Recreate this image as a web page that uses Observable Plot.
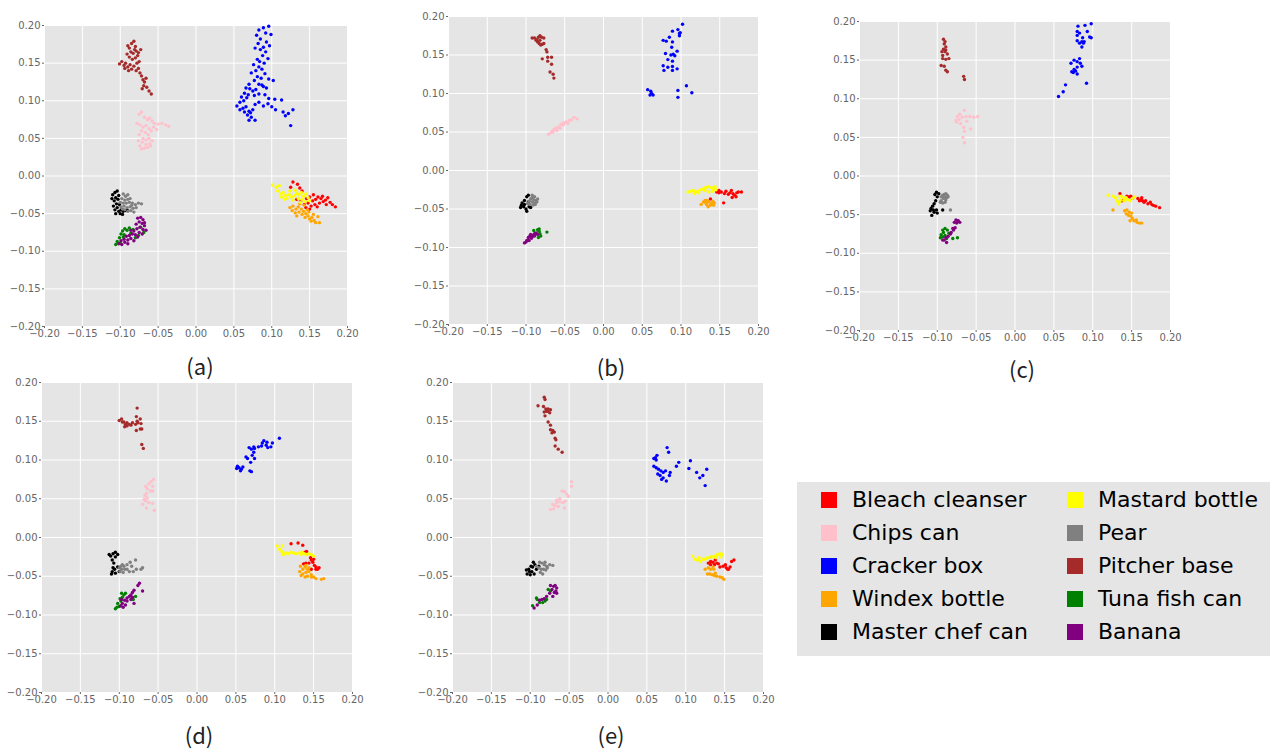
<!DOCTYPE html>
<html><head><meta charset="utf-8">
<script src="https://cdn.jsdelivr.net/npm/d3@7"></script>
<script src="https://cdn.jsdelivr.net/npm/@observablehq/plot@0.6"></script>
<style>
body{margin:0;background:#fff;}
#root{position:relative;width:1274px;height:749px;overflow:hidden;background:#fff;}
.cap{position:absolute;font-family:"Noto Sans CJK JP","Noto Sans",sans-serif;font-size:22px;line-height:1;color:#222;transform:translate(-50%,-50%);white-space:nowrap;}
#legend{position:absolute;left:797px;top:482px;width:473px;height:174px;background:#e5e5e5;}
.sw{position:absolute;width:16px;height:16px;}
.lt{position:absolute;font-family:"DejaVu Sans",sans-serif;font-size:22px;color:#000;height:26px;line-height:26px;white-space:nowrap;}
</style></head><body>
<div id="root"><div id="legend"></div></div>
<script>
const categories = ["Bleach cleanser","Chips can","Cracker box","Windex bottle","Master chef can","Mastard bottle","Pear","Pitcher base","Tuna fish can","Banana"];
const colors = ["#ff0000","#ffc0cb","#0000ff","#ffa500","#000000","#ffff00","#808080","#a52a2a","#008000","#800080"];
const tickValues = [-0.2,-0.15,-0.1,-0.05,0,0.05,0.1,0.15,0.2];
const panelLabels = ["(a)","(b)","(c)","(d)","(e)"];

// ---- panel (a)
const aBleach = [[0.128,-0.008],[0.134,-0.011],[0.137,-0.016],[0.125,-0.015],[0.140,-0.020],[0.146,-0.030],[0.150,-0.028],[0.154,-0.033],[0.158,-0.031],[0.161,-0.028],[0.165,-0.030],[0.168,-0.034],[0.171,-0.032],[0.174,-0.029],[0.177,-0.035],[0.180,-0.038],[0.184,-0.041],[0.163,-0.036],[0.157,-0.038],[0.152,-0.040],[0.148,-0.036],[0.143,-0.038],[0.138,-0.034],[0.160,-0.041],[0.167,-0.027],[0.155,-0.025],[0.172,-0.038],[0.145,-0.042],[0.150,-0.044],[0.133,-0.031]];
const aChips = [[-0.075,0.082],[-0.072,0.085],[-0.068,0.078],[-0.064,0.075],[-0.061,0.077],[-0.058,0.073],[-0.055,0.070],[-0.050,0.069],[-0.045,0.070],[-0.040,0.068],[-0.036,0.066],[-0.078,0.070],[-0.074,0.068],[-0.070,0.065],[-0.066,0.067],[-0.062,0.063],[-0.059,0.060],[-0.063,0.055],[-0.067,0.058],[-0.072,0.060],[-0.075,0.055],[-0.070,0.050],[-0.066,0.048],[-0.062,0.050],[-0.058,0.047],[-0.061,0.043],[-0.066,0.042],[-0.071,0.045],[-0.074,0.040],[-0.072,0.036],[-0.068,0.037],[-0.064,0.038],[-0.060,0.040],[-0.076,0.047],[-0.056,0.065],[-0.052,0.062]];
const aCracker = [[0.083,0.194],[0.089,0.197],[0.096,0.199],[0.092,0.190],[0.080,0.187],[0.099,0.188],[0.085,0.182],[0.093,0.178],[0.082,0.176],[0.097,0.173],[0.089,0.171],[0.078,0.170],[0.085,0.168],[0.092,0.165],[0.088,0.160],[0.095,0.156],[0.081,0.155],[0.084,0.152],[0.090,0.150],[0.076,0.148],[0.083,0.145],[0.087,0.142],[0.079,0.140],[0.073,0.137],[0.091,0.136],[0.081,0.132],[0.086,0.130],[0.096,0.129],[0.102,0.127],[0.077,0.127],[0.070,0.122],[0.083,0.122],[0.089,0.119],[0.093,0.117],[0.066,0.117],[0.071,0.116],[0.075,0.113],[0.079,0.115],[0.087,0.121],[0.064,0.110],[0.069,0.108],[0.077,0.107],[0.083,0.109],[0.091,0.108],[0.060,0.105],[0.063,0.100],[0.067,0.104],[0.058,0.098],[0.096,0.103],[0.104,0.102],[0.113,0.101],[0.054,0.093],[0.058,0.088],[0.062,0.090],[0.066,0.092],[0.070,0.086],[0.064,0.085],[0.068,0.081],[0.072,0.084],[0.075,0.088],[0.078,0.095],[0.083,0.098],[0.089,0.093],[0.095,0.096],[0.100,0.092],[0.105,0.088],[0.073,0.078],[0.078,0.074],[0.070,0.074],[0.115,0.085],[0.118,0.080],[0.122,0.083],[0.128,0.088],[0.125,0.067]];
const aWindex = [[0.124,-0.042],[0.128,-0.040],[0.132,-0.044],[0.127,-0.046],[0.135,-0.041],[0.139,-0.044],[0.142,-0.047],[0.136,-0.048],[0.131,-0.049],[0.145,-0.050],[0.140,-0.051],[0.148,-0.053],[0.144,-0.055],[0.150,-0.057],[0.153,-0.055],[0.156,-0.059],[0.152,-0.060],[0.158,-0.062],[0.163,-0.062],[0.161,-0.054],[0.147,-0.045],[0.143,-0.039],[0.137,-0.037],[0.149,-0.048],[0.155,-0.051],[0.133,-0.053]];
const aMasterChef = [[-0.107,-0.022],[-0.104,-0.020],[-0.110,-0.025],[-0.102,-0.026],[-0.106,-0.029],[-0.108,-0.033],[-0.103,-0.031],[-0.105,-0.037],[-0.109,-0.040],[-0.104,-0.042],[-0.107,-0.045],[-0.102,-0.047],[-0.099,-0.045],[-0.096,-0.047],[-0.093,-0.046],[-0.100,-0.050],[-0.106,-0.050],[-0.097,-0.051],[-0.091,-0.045],[-0.101,-0.038],[-0.111,-0.030]];
const aMastard = [[0.101,-0.012],[0.106,-0.015],[0.110,-0.013],[0.108,-0.020],[0.112,-0.024],[0.115,-0.022],[0.118,-0.026],[0.113,-0.028],[0.120,-0.030],[0.123,-0.025],[0.126,-0.028],[0.130,-0.026],[0.133,-0.023],[0.136,-0.025],[0.139,-0.022],[0.142,-0.027],[0.145,-0.024],[0.148,-0.029],[0.140,-0.031],[0.135,-0.030],[0.128,-0.032],[0.117,-0.031],[0.124,-0.020],[0.131,-0.019],[0.144,-0.034],[0.150,-0.033],[0.138,-0.035]];
const aPear = [[-0.096,-0.024],[-0.093,-0.027],[-0.090,-0.025],[-0.098,-0.030],[-0.094,-0.032],[-0.090,-0.031],[-0.087,-0.030],[-0.100,-0.035],[-0.096,-0.036],[-0.092,-0.036],[-0.088,-0.035],[-0.084,-0.036],[-0.080,-0.038],[-0.076,-0.036],[-0.072,-0.037],[-0.099,-0.041],[-0.095,-0.040],[-0.091,-0.042],[-0.087,-0.041],[-0.083,-0.043],[-0.079,-0.042],[-0.094,-0.045],[-0.090,-0.047],[-0.086,-0.046],[-0.082,-0.048],[-0.097,-0.044],[-0.085,-0.039]];
const aPitcher = [[-0.090,0.173],[-0.088,0.170],[-0.085,0.176],[-0.082,0.179],[-0.080,0.172],[-0.086,0.165],[-0.083,0.163],[-0.079,0.166],[-0.077,0.160],[-0.091,0.162],[-0.088,0.158],[-0.084,0.155],[-0.080,0.157],[-0.076,0.164],[-0.093,0.150],[-0.098,0.152],[-0.101,0.149],[-0.095,0.147],[-0.090,0.145],[-0.087,0.148],[-0.085,0.142],[-0.089,0.140],[-0.094,0.143],[-0.082,0.146],[-0.078,0.150],[-0.075,0.152],[-0.079,0.140],[-0.076,0.143],[-0.074,0.137],[-0.072,0.133],[-0.070,0.128],[-0.068,0.125],[-0.066,0.130],[-0.069,0.120],[-0.065,0.118],[-0.062,0.113],[-0.059,0.109],[-0.071,0.116],[-0.073,0.168],[-0.081,0.168]];
const aTuna = [[-0.094,-0.070],[-0.097,-0.073],[-0.091,-0.072],[-0.088,-0.069],[-0.083,-0.071],[-0.099,-0.077],[-0.095,-0.078],[-0.101,-0.082],[-0.104,-0.087],[-0.106,-0.091],[-0.100,-0.089],[-0.096,-0.081],[-0.073,-0.068],[-0.069,-0.075],[-0.086,-0.076],[-0.080,-0.082],[-0.076,-0.079]];
const aBanana = [[-0.077,-0.056],[-0.073,-0.055],[-0.070,-0.058],[-0.075,-0.061],[-0.071,-0.063],[-0.068,-0.066],[-0.079,-0.064],[-0.074,-0.068],[-0.066,-0.072],[-0.070,-0.071],[-0.078,-0.070],[-0.082,-0.073],[-0.086,-0.072],[-0.075,-0.075],[-0.071,-0.077],[-0.080,-0.078],[-0.084,-0.077],[-0.088,-0.079],[-0.092,-0.080],[-0.077,-0.081],[-0.086,-0.083],[-0.090,-0.085],[-0.095,-0.084],[-0.099,-0.086],[-0.094,-0.088],[-0.098,-0.091],[-0.102,-0.090],[-0.090,-0.090],[-0.082,-0.086],[-0.068,-0.062]];

// ---- panel (b)
const bBleach = [[0.146,-0.028],[0.149,-0.029],[0.152,-0.028],[0.156,-0.030],[0.158,-0.027],[0.161,-0.031],[0.163,-0.029],[0.165,-0.026],[0.167,-0.030],[0.169,-0.032],[0.172,-0.029],[0.174,-0.028],[0.178,-0.028],[0.166,-0.035],[0.171,-0.034],[0.155,-0.042],[0.138,-0.037],[0.149,-0.026]];
const bChips = [[-0.071,0.047],[-0.068,0.049],[-0.066,0.051],[-0.064,0.053],[-0.062,0.055],[-0.059,0.056],[-0.057,0.057],[-0.055,0.060],[-0.053,0.060],[-0.051,0.062],[-0.048,0.063],[-0.044,0.065],[-0.041,0.066],[-0.038,0.069],[-0.034,0.067],[-0.065,0.050],[-0.060,0.052],[-0.056,0.055],[-0.052,0.059],[-0.046,0.061]];
const bCracker = [[0.102,0.190],[0.096,0.183],[0.099,0.179],[0.098,0.175],[0.089,0.181],[0.085,0.173],[0.077,0.169],[0.081,0.168],[0.089,0.167],[0.088,0.160],[0.095,0.155],[0.080,0.152],[0.087,0.150],[0.090,0.151],[0.092,0.149],[0.083,0.144],[0.089,0.142],[0.077,0.136],[0.083,0.134],[0.078,0.130],[0.089,0.135],[0.095,0.132],[0.089,0.130],[0.057,0.105],[0.061,0.103],[0.062,0.100],[0.064,0.098],[0.060,0.098],[0.096,0.104],[0.107,0.110],[0.114,0.101],[0.096,0.095],[0.098,0.178]];
const bWindex = [[0.126,-0.044],[0.129,-0.041],[0.132,-0.042],[0.134,-0.039],[0.136,-0.041],[0.139,-0.043],[0.141,-0.040],[0.143,-0.042],[0.138,-0.045],[0.133,-0.044],[0.142,-0.045],[0.131,-0.039],[0.135,-0.047]];
const bMasterChef = [[-0.097,-0.032],[-0.099,-0.034],[-0.102,-0.039],[-0.105,-0.042],[-0.106,-0.045],[-0.107,-0.048],[-0.103,-0.047],[-0.100,-0.050],[-0.099,-0.053],[-0.096,-0.047],[-0.094,-0.048],[-0.102,-0.044],[-0.097,-0.041]];
const bMastard = [[0.109,-0.028],[0.113,-0.027],[0.116,-0.026],[0.119,-0.028],[0.122,-0.027],[0.126,-0.025],[0.129,-0.024],[0.132,-0.022],[0.135,-0.021],[0.139,-0.022],[0.142,-0.024],[0.145,-0.025],[0.141,-0.027],[0.136,-0.028],[0.131,-0.026],[0.117,-0.030],[0.123,-0.029],[0.144,-0.021]];
const bPear = [[-0.092,-0.032],[-0.089,-0.034],[-0.094,-0.037],[-0.090,-0.038],[-0.087,-0.039],[-0.096,-0.040],[-0.092,-0.041],[-0.089,-0.042],[-0.086,-0.041],[-0.098,-0.043],[-0.095,-0.044],[-0.091,-0.045],[-0.088,-0.044],[-0.085,-0.037],[-0.092,-0.035]];
const bPitcher = [[-0.092,0.172],[-0.089,0.172],[-0.086,0.170],[-0.084,0.173],[-0.082,0.175],[-0.080,0.173],[-0.077,0.172],[-0.085,0.167],[-0.083,0.165],[-0.081,0.163],[-0.079,0.164],[-0.077,0.165],[-0.074,0.157],[-0.073,0.154],[-0.079,0.145],[-0.072,0.147],[-0.067,0.147],[-0.072,0.142],[-0.067,0.138],[-0.069,0.128],[-0.065,0.125],[-0.064,0.120],[-0.087,0.169],[-0.082,0.169]];
const bTuna = [[-0.090,-0.078],[-0.085,-0.077],[-0.083,-0.079],[-0.082,-0.082],[-0.081,-0.085],[-0.084,-0.087],[-0.073,-0.080],[-0.087,-0.082],[-0.083,-0.076]];
const bBanana = [[-0.102,-0.094],[-0.099,-0.091],[-0.097,-0.087],[-0.095,-0.085],[-0.093,-0.088],[-0.091,-0.084],[-0.089,-0.082],[-0.087,-0.081],[-0.085,-0.083],[-0.096,-0.091],[-0.092,-0.086],[-0.089,-0.085],[-0.100,-0.093],[-0.094,-0.083]];

// ---- panel (c)
const cBleach = [[0.135,-0.023],[0.144,-0.026],[0.147,-0.027],[0.151,-0.029],[0.158,-0.029],[0.160,-0.032],[0.162,-0.031],[0.164,-0.032],[0.166,-0.034],[0.168,-0.032],[0.171,-0.036],[0.174,-0.034],[0.176,-0.037],[0.178,-0.038],[0.181,-0.039],[0.186,-0.041],[0.163,-0.028],[0.149,-0.026],[0.138,-0.032]];
const cChips = [[-0.065,0.085],[-0.071,0.080],[-0.074,0.077],[-0.076,0.072],[-0.072,0.073],[-0.068,0.076],[-0.063,0.077],[-0.058,0.077],[-0.053,0.076],[-0.048,0.077],[-0.070,0.068],[-0.066,0.063],[-0.065,0.058],[-0.057,0.061],[-0.067,0.050],[-0.065,0.043],[-0.075,0.070],[-0.062,0.071]];
const cCracker = [[0.098,0.197],[0.090,0.195],[0.081,0.194],[0.080,0.187],[0.083,0.185],[0.080,0.182],[0.093,0.187],[0.096,0.180],[0.087,0.179],[0.080,0.175],[0.083,0.172],[0.086,0.174],[0.088,0.172],[0.086,0.167],[0.083,0.152],[0.080,0.148],[0.076,0.150],[0.072,0.146],[0.084,0.146],[0.086,0.142],[0.080,0.141],[0.076,0.138],[0.073,0.135],[0.078,0.136],[0.080,0.132],[0.075,0.134],[0.092,0.120],[0.065,0.118],[0.062,0.109],[0.056,0.103],[0.089,0.174],[0.098,0.179]];
const cWindex = [[0.126,-0.044],[0.141,-0.045],[0.144,-0.044],[0.147,-0.047],[0.143,-0.049],[0.146,-0.051],[0.149,-0.052],[0.151,-0.055],[0.148,-0.058],[0.153,-0.058],[0.157,-0.060],[0.160,-0.061],[0.163,-0.061],[0.150,-0.048],[0.156,-0.057]];
const cMasterChef = [[-0.101,-0.021],[-0.098,-0.023],[-0.103,-0.024],[-0.100,-0.027],[-0.102,-0.032],[-0.104,-0.036],[-0.106,-0.039],[-0.108,-0.042],[-0.109,-0.045],[-0.107,-0.051],[-0.104,-0.047],[-0.101,-0.044],[-0.093,-0.044],[-0.100,-0.048],[-0.105,-0.044]];
const cMastard = [[0.120,-0.025],[0.126,-0.026],[0.129,-0.028],[0.131,-0.032],[0.134,-0.034],[0.136,-0.031],[0.138,-0.027],[0.141,-0.029],[0.143,-0.028],[0.145,-0.031],[0.148,-0.032],[0.151,-0.029],[0.154,-0.027],[0.133,-0.036],[0.140,-0.032],[0.135,-0.026]];
const cPear = [[-0.095,-0.027],[-0.093,-0.025],[-0.091,-0.024],[-0.089,-0.023],[-0.087,-0.025],[-0.092,-0.029],[-0.089,-0.031],[-0.095,-0.032],[-0.096,-0.034],[-0.093,-0.035],[-0.090,-0.034],[-0.088,-0.028],[-0.086,-0.027],[-0.083,-0.044],[-0.091,-0.027]];
const cPitcher = [[-0.092,0.177],[-0.090,0.174],[-0.091,0.171],[-0.089,0.167],[-0.092,0.164],[-0.090,0.161],[-0.094,0.161],[-0.087,0.158],[-0.093,0.152],[-0.089,0.151],[-0.085,0.152],[-0.095,0.143],[-0.091,0.142],[-0.089,0.137],[-0.087,0.135],[-0.066,0.129],[-0.065,0.125],[-0.089,0.163],[-0.093,0.156]];
const cTuna = [[-0.093,-0.070],[-0.090,-0.068],[-0.087,-0.070],[-0.092,-0.073],[-0.095,-0.076],[-0.093,-0.079],[-0.096,-0.080],[-0.090,-0.077],[-0.085,-0.074],[-0.080,-0.081],[-0.074,-0.080],[-0.088,-0.081]];
const cBanana = [[-0.076,-0.057],[-0.073,-0.058],[-0.071,-0.060],[-0.078,-0.060],[-0.075,-0.061],[-0.077,-0.067],[-0.079,-0.070],[-0.082,-0.073],[-0.083,-0.075],[-0.086,-0.078],[-0.089,-0.080],[-0.091,-0.083],[-0.088,-0.086],[-0.093,-0.083],[-0.080,-0.068],[-0.074,-0.058]];

// ---- panel (d)
const dBleach = [[0.121,-0.008],[0.130,-0.007],[0.136,-0.010],[0.139,-0.019],[0.141,-0.018],[0.146,-0.026],[0.147,-0.029],[0.144,-0.033],[0.140,-0.033],[0.137,-0.034],[0.149,-0.032],[0.151,-0.036],[0.153,-0.038],[0.155,-0.041],[0.157,-0.039],[0.153,-0.041],[0.147,-0.041],[0.150,-0.028]];
const dChips = [[-0.056,0.075],[-0.059,0.072],[-0.062,0.069],[-0.066,0.066],[-0.064,0.063],[-0.057,0.066],[-0.065,0.057],[-0.067,0.054],[-0.064,0.051],[-0.066,0.047],[-0.070,0.043],[-0.062,0.045],[-0.057,0.044],[-0.065,0.038],[-0.055,0.035],[-0.060,0.060],[-0.057,0.060],[-0.068,0.049]];
const dCracker = [[0.106,0.128],[0.097,0.122],[0.095,0.117],[0.091,0.116],[0.086,0.125],[0.084,0.122],[0.083,0.118],[0.089,0.119],[0.090,0.123],[0.079,0.117],[0.073,0.117],[0.067,0.116],[0.070,0.114],[0.073,0.110],[0.071,0.106],[0.074,0.102],[0.065,0.102],[0.063,0.104],[0.069,0.097],[0.052,0.092],[0.054,0.090],[0.051,0.089],[0.057,0.088],[0.056,0.086],[0.068,0.086],[0.070,0.085],[0.059,0.091],[0.074,0.115]];
const dWindex = [[0.133,-0.037],[0.136,-0.041],[0.139,-0.038],[0.142,-0.041],[0.132,-0.044],[0.136,-0.047],[0.140,-0.045],[0.144,-0.044],[0.147,-0.048],[0.134,-0.049],[0.139,-0.051],[0.142,-0.050],[0.147,-0.051],[0.150,-0.051],[0.153,-0.053],[0.160,-0.054],[0.163,-0.053],[0.140,-0.036],[0.144,-0.039]];
const dMasterChef = [[-0.113,-0.022],[-0.111,-0.024],[-0.108,-0.021],[-0.105,-0.019],[-0.102,-0.022],[-0.105,-0.025],[-0.109,-0.029],[-0.107,-0.033],[-0.108,-0.039],[-0.109,-0.044],[-0.106,-0.041],[-0.102,-0.038],[-0.100,-0.044],[-0.105,-0.046],[-0.110,-0.047]];
const dMastard = [[0.103,-0.011],[0.106,-0.015],[0.109,-0.018],[0.111,-0.022],[0.114,-0.020],[0.117,-0.021],[0.121,-0.019],[0.124,-0.020],[0.127,-0.021],[0.132,-0.020],[0.135,-0.019],[0.138,-0.021],[0.141,-0.022],[0.144,-0.021],[0.147,-0.022],[0.150,-0.024],[0.110,-0.011],[0.134,-0.022]];
const dPear = [[-0.100,-0.039],[-0.098,-0.037],[-0.096,-0.035],[-0.094,-0.037],[-0.097,-0.041],[-0.093,-0.041],[-0.099,-0.044],[-0.090,-0.041],[-0.087,-0.044],[-0.086,-0.032],[-0.084,-0.037],[-0.082,-0.044],[-0.079,-0.029],[-0.078,-0.041],[-0.072,-0.041],[-0.070,-0.039],[-0.095,-0.045],[-0.090,-0.035]];
const dPitcher = [[-0.077,0.167],[-0.100,0.151],[-0.097,0.153],[-0.094,0.149],[-0.092,0.146],[-0.090,0.144],[-0.087,0.146],[-0.090,0.148],[-0.085,0.145],[-0.083,0.148],[-0.079,0.146],[-0.077,0.150],[-0.076,0.148],[-0.073,0.153],[-0.078,0.156],[-0.072,0.147],[-0.073,0.140],[-0.078,0.138],[-0.071,0.140],[-0.071,0.120],[-0.069,0.115],[-0.096,0.149],[-0.093,0.143]];
const dTuna = [[-0.097,-0.072],[-0.094,-0.074],[-0.096,-0.077],[-0.099,-0.079],[-0.098,-0.082],[-0.102,-0.085],[-0.103,-0.090],[-0.105,-0.092],[-0.100,-0.089],[-0.079,-0.076],[-0.082,-0.080],[-0.092,-0.072]];
const dBanana = [[-0.074,-0.059],[-0.076,-0.062],[-0.070,-0.069],[-0.081,-0.068],[-0.083,-0.071],[-0.085,-0.074],[-0.087,-0.076],[-0.090,-0.078],[-0.093,-0.081],[-0.096,-0.085],[-0.098,-0.088],[-0.095,-0.090],[-0.090,-0.082],[-0.085,-0.080],[-0.081,-0.085],[-0.092,-0.087],[-0.083,-0.077],[-0.097,-0.080]];

// ---- panel (e)
const eBleach = [[0.129,-0.033],[0.132,-0.031],[0.135,-0.032],[0.138,-0.029],[0.140,-0.033],[0.137,-0.035],[0.142,-0.034],[0.144,-0.038],[0.148,-0.037],[0.151,-0.035],[0.152,-0.039],[0.155,-0.041],[0.157,-0.038],[0.159,-0.031],[0.162,-0.029],[0.154,-0.041],[0.132,-0.035]];
const eChips = [[-0.047,0.072],[-0.047,0.066],[-0.059,0.060],[-0.056,0.059],[-0.053,0.056],[-0.051,0.053],[-0.062,0.050],[-0.066,0.048],[-0.062,0.046],[-0.058,0.045],[-0.055,0.047],[-0.071,0.043],[-0.068,0.041],[-0.074,0.036],[-0.070,0.037],[-0.064,0.040],[-0.056,0.038],[-0.066,0.045]];
const eCracker = [[0.076,0.116],[0.078,0.110],[0.063,0.106],[0.061,0.103],[0.062,0.100],[0.059,0.092],[0.062,0.090],[0.065,0.088],[0.068,0.086],[0.071,0.084],[0.067,0.080],[0.064,0.082],[0.071,0.077],[0.075,0.073],[0.069,0.075],[0.079,0.080],[0.080,0.084],[0.088,0.092],[0.091,0.097],[0.104,0.089],[0.106,0.099],[0.114,0.084],[0.118,0.077],[0.122,0.080],[0.127,0.088],[0.125,0.067],[0.074,0.086],[0.059,0.102]];
const eWindex = [[0.125,-0.041],[0.129,-0.039],[0.132,-0.041],[0.136,-0.041],[0.131,-0.047],[0.134,-0.048],[0.137,-0.049],[0.140,-0.050],[0.144,-0.051],[0.147,-0.052],[0.149,-0.054],[0.138,-0.046],[0.128,-0.047],[0.135,-0.038]];
const eMasterChef = [[-0.105,-0.042],[-0.102,-0.041],[-0.099,-0.037],[-0.096,-0.032],[-0.094,-0.035],[-0.097,-0.038],[-0.101,-0.044],[-0.104,-0.047],[-0.098,-0.044],[-0.092,-0.041],[-0.095,-0.047],[-0.100,-0.048],[-0.089,-0.037]];
const eMastard = [[0.109,-0.024],[0.112,-0.028],[0.115,-0.029],[0.119,-0.031],[0.122,-0.028],[0.125,-0.028],[0.128,-0.026],[0.132,-0.025],[0.135,-0.025],[0.138,-0.024],[0.141,-0.022],[0.144,-0.021],[0.147,-0.022],[0.145,-0.025],[0.139,-0.026],[0.117,-0.026]];
const ePear = [[-0.088,-0.032],[-0.085,-0.033],[-0.082,-0.035],[-0.079,-0.037],[-0.075,-0.035],[-0.071,-0.036],[-0.089,-0.039],[-0.086,-0.041],[-0.083,-0.041],[-0.080,-0.042],[-0.084,-0.047],[-0.087,-0.045],[-0.078,-0.039],[-0.081,-0.032],[-0.092,-0.037]];
const ePitcher = [[-0.082,0.181],[-0.081,0.178],[-0.090,0.170],[-0.083,0.169],[-0.080,0.166],[-0.077,0.166],[-0.074,0.165],[-0.079,0.163],[-0.082,0.162],[-0.075,0.161],[-0.081,0.157],[-0.077,0.149],[-0.074,0.145],[-0.074,0.139],[-0.071,0.138],[-0.069,0.136],[-0.072,0.135],[-0.068,0.128],[-0.067,0.126],[-0.068,0.118],[-0.064,0.114],[-0.059,0.110],[-0.078,0.163]];
const eTuna = [[-0.092,-0.078],[-0.091,-0.080],[-0.088,-0.084],[-0.084,-0.084],[-0.081,-0.082],[-0.097,-0.088],[-0.077,-0.067],[-0.074,-0.069],[-0.079,-0.080]];
const eBanana = [[-0.074,-0.062],[-0.070,-0.063],[-0.068,-0.062],[-0.066,-0.065],[-0.072,-0.067],[-0.069,-0.071],[-0.066,-0.072],[-0.075,-0.072],[-0.079,-0.076],[-0.082,-0.079],[-0.085,-0.080],[-0.088,-0.081],[-0.091,-0.087],[-0.095,-0.091],[-0.071,-0.076],[-0.067,-0.069]];

const panelData = [
  [aBleach,aChips,aCracker,aWindex,aMasterChef,aMastard,aPear,aPitcher,aTuna,aBanana],
  [bBleach,bChips,bCracker,bWindex,bMasterChef,bMastard,bPear,bPitcher,bTuna,bBanana],
  [cBleach,cChips,cCracker,cWindex,cMasterChef,cMastard,cPear,cPitcher,cTuna,cBanana],
  [dBleach,dChips,dCracker,dWindex,dMasterChef,dMastard,dPear,dPitcher,dTuna,dBanana],
  [eBleach,eChips,eCracker,eWindex,eMasterChef,eMastard,ePear,ePitcher,eTuna,eBanana]
];

// layout (pixel boxes of plot areas and caption centers)
const layout = [
  {left:44, top:25, w:303, h:301, capX:200, capY:365},
  {left:448, top:16, w:310, h:308, capX:611, capY:366},
  {left:859, top:21, w:311, h:309, capX:1022, capY:368},
  {left:41, top:382, w:311, h:310, capX:199, capY:734},
  {left:452, top:382, w:311, h:310, capX:611, capY:734}
];

const root = document.getElementById("root");
const fmt = d3.format(".2f");
const mL = 50, mR = 30, mT = 10, mB = 30;

layout.forEach((L, pi) => {
  const rows = panelData[pi].flatMap((arr, ci) => arr.map(([x, y]) => ({x, y, cat: categories[ci]})));
  const chart = Plot.plot({
    width: L.w + mL + mR,
    height: L.h + mT + mB,
    marginLeft: mL, marginRight: mR, marginTop: mT, marginBottom: mB,
    x: {domain: [-0.2, 0.2]},
    y: {domain: [-0.2, 0.2]},
    color: {domain: categories, range: colors},
    style: {fontFamily: '"DejaVu Sans",sans-serif', fontSize: "10px", color: "#666", background: "transparent", overflow: "visible"},
    marks: [
      Plot.frame({fill: "#e5e5e5", stroke: "none"}),
      Plot.gridX(tickValues, {stroke: "#fff", strokeOpacity: 1, strokeWidth: 1}),
      Plot.gridY(tickValues, {stroke: "#fff", strokeOpacity: 1, strokeWidth: 1}),
      Plot.axisX(tickValues, {tickFormat: fmt, tickSize: 2, tickPadding: 1, label: null}),
      Plot.axisY(tickValues, {tickFormat: fmt, tickSize: 2, tickPadding: 2, label: null}),
      Plot.dot(rows, {x: "x", y: "y", fill: "cat", r: 1.7})
    ]
  });
  chart.style.position = "absolute";
  chart.style.left = (L.left - mL) + "px";
  chart.style.top = (L.top - mT) + "px";
  root.appendChild(chart);
  const cap = document.createElement("div");
  cap.className = "cap";
  cap.textContent = panelLabels[pi];
  cap.style.left = L.capX + "px";
  cap.style.top = L.capY + "px";
  root.appendChild(cap);
});

// legend
const legend = document.getElementById("legend");
categories.forEach((name, i) => {
  const col = i < 5 ? 0 : 1, row = i % 5;
  const cy = 18 + row * 33;
  const sw = document.createElement("div");
  sw.className = "sw";
  sw.style.background = colors[i];
  sw.style.left = (24 + col * 246) + "px";
  sw.style.top = (cy - 8) + "px";
  legend.appendChild(sw);
  const t = document.createElement("div");
  t.className = "lt";
  t.textContent = name;
  t.style.left = (55 + col * 246) + "px";
  t.style.top = (cy - 13) + "px";
  legend.appendChild(t);
});
</script>
</body></html>
